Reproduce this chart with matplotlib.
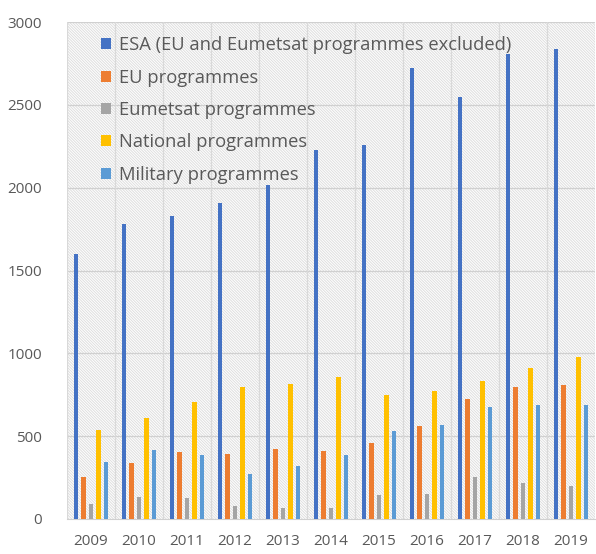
import numpy as np
import matplotlib
matplotlib.use("Agg")
import matplotlib.pyplot as plt
from matplotlib.patches import Rectangle

plt.rcParams['font.family'] = ['Open Sans', 'DejaVu Sans']
plt.rcParams['hatch.linewidth'] = 0.7

years = ['2009', '2010', '2011', '2012', '2013', '2014', '2015', '2016', '2017', '2018', '2019']
esa = [1600, 1780, 1830, 1905, 2015, 2225, 2255, 2720, 2545, 2810, 2840]
eu = [255, 338, 404, 392, 422, 410, 459, 561, 724, 797, 809]
eumetsat = [90, 133, 127, 80, 66, 66, 145, 151, 255, 217, 199]
national = [537, 610, 706, 797, 813, 857, 748, 772, 833, 911, 978]
military = [344, 416, 386, 272, 320, 385, 531, 567, 676, 688, 688]

names = ['ESA (EU and Eumetsat programmes excluded)', 'EU programmes',
         'Eumetsat programmes', 'National programmes', 'Military programmes']
colors = ['#4472C4', '#ED7D31', '#A5A5A5', '#FFC000', '#5B9BD5']
series = [esa, eu, eumetsat, national, military]

fig = plt.figure(figsize=(5.96, 5.54), dpi=100)
ax = fig.add_axes([0.1124, 0.0632, 0.886, 0.897])

x = np.arange(len(years))
ax.set_xlim(-0.5, len(years) - 0.5)
ax.set_ylim(0, 3000)

# hatched background
bg = Rectangle((0, 0), 1, 1, transform=ax.transAxes, facecolor='white',
               edgecolor='#dedede', hatch='\\' * 12, lw=0, zorder=0)
ax.add_patch(bg)

for v in np.arange(500, 3001, 500):
    ax.axhline(v, color='#d0d0d0', lw=0.9, zorder=1)
for b in np.arange(-0.5, len(years), 1):
    ax.axvline(b, color='#d9d9d9', lw=0.9, zorder=1)

w = 0.1
for i, (s, c, n) in enumerate(zip(series, colors, names)):
    ax.bar(x + (i - 2) * 0.156, s, width=w, color=c, label=n, zorder=3)

for sp in ['top', 'right', 'left']:
    ax.spines[sp].set_visible(False)
ax.spines['bottom'].set_color('#d0d0d0')

ax.set_xticks(x)
ax.set_xticklabels(years)
ax.set_yticks(np.arange(0, 3001, 500))
ax.tick_params(axis='both', length=0, labelsize=11, colors='#595959')
ax.tick_params(axis='x', pad=11)
ax.tick_params(axis='y', pad=18)

leg = ax.legend(loc='upper left', bbox_to_anchor=(0.04, 0.997), frameon=False,
                fontsize=13.2, handlelength=0.55, handleheight=0.55, handletextpad=0.45,
                labelspacing=0.78, borderaxespad=0.3)
for t in leg.get_texts():
    t.set_color('#595959')

fig.savefig('out.png', dpi=100)
